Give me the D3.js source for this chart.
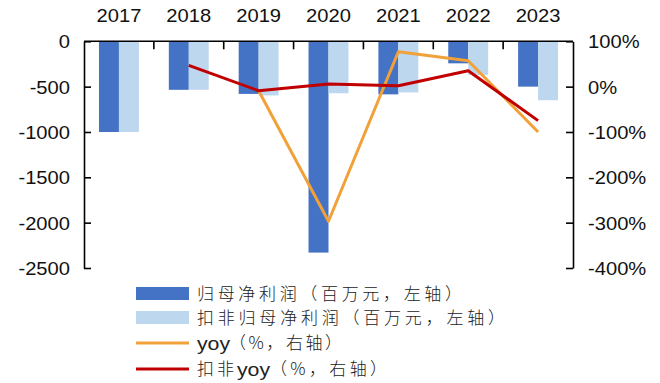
<!DOCTYPE html>
<html>
<head>
<meta charset="utf-8">
<script src="https://cdn.jsdelivr.net/npm/d3@7"></script>
<style>
  html, body { margin: 0; padding: 0; background: #fff; }
  svg { display: block; }
</style>
</head>
<body>
<svg id="chart" width="660" height="383"></svg>
<script>
// Annual figures
const years = ["2017", "2018", "2019", "2020", "2021", "2022", "2023"];
const netProfit = [-1000, -535, -580, -2330, -585, -243, -500];        // 百万元
const deductedProfit = [-1000, -535, -597, -573, -564, -370, -650];    // 百万元
const yoy = [null, null, -9, -297, 77, 57, -100];                       // %
const deductedYoy = [null, 47, -9, 6, 2, 35, -75];                      // %

const leftTicks = [0, -500, -1000, -1500, -2000, -2500];
const rightTicks = [100, 0, -100, -200, -300, -400];

// Legend labels, split into CJK and Latin runs: [text, set length, advance, latin?]
const legendItems = [
  { kind: "bar", color: "#4472C4", parts: [["归母净利润（百万元，左轴）", 265, 265, false]] },
  { kind: "bar", color: "#BDD7EE", parts: [["扣非归母净利润（百万元，左轴）", 308, 308, false]] },
  { kind: "line", color: "#F2A139", parts: [["yoy", 0, 32, true], ["（%，右轴）", 113, 113, false]] },
  { kind: "line", color: "#C00000", parts: [["扣非", 37, 40, false], ["yoy", 0, 33, true], ["（%，右轴）", 117, 117, false]] }
];

const svg = d3.select("#chart");
const plot = { left: 84, right: 573, top: 41.3, bottom: 268 };
const font = "'Liberation Sans', Arial, sans-serif";
const stretch = 1.12;

const x = d3.scaleBand().domain(years).range([plot.left, plot.right]).padding(0);
const sub = d3.scaleBand().domain(["net", "ded"]).range([0, x.bandwidth()])
  .paddingInner(0).paddingOuter(0.75);
const yL = d3.scaleLinear().domain([-2500, 0]).range([plot.bottom, plot.top]);
const yR = d3.scaleLinear().domain([-400, 100]).range([plot.bottom, plot.top]);

// Bars
const barSeries = [
  { key: "net", values: netProfit, color: legendItems[0].color },
  { key: "ded", values: deductedProfit, color: legendItems[1].color }
];
barSeries.forEach(s => {
  svg.append("g").selectAll("rect")
    .data(years)
    .join("rect")
    .attr("x", (d) => x(d) + sub(s.key))
    .attr("width", sub.bandwidth())
    .attr("y", (d, i) => yL(Math.max(0, s.values[i])))
    .attr("height", (d, i) => Math.abs(yL(s.values[i]) - yL(0)))
    .attr("fill", s.color);
});

// Lines on right axis
const lineSeries = [
  { values: yoy, color: legendItems[2].color },
  { values: deductedYoy, color: legendItems[3].color }
];
const lineGen = d3.line()
  .defined(d => d.v !== null)
  .x(d => x(d.year) + x.bandwidth() / 2)
  .y(d => yR(d.v));
lineSeries.forEach(s => {
  svg.append("path")
    .datum(years.map((year, i) => ({ year, v: s.values[i] })))
    .attr("d", lineGen)
    .attr("fill", "none")
    .attr("stroke", s.color)
    .attr("stroke-width", 3)
    .attr("stroke-linejoin", "round");
});

// Left axis (ticks point inward)
const gL = svg.append("g")
  .attr("transform", `translate(${plot.left},0)`)
  .call(d3.axisLeft(yL).tickValues(leftTicks).tickSizeInner(-7).tickSizeOuter(0)
    .tickFormat(d => String(d)));
gL.select(".domain").attr("stroke", "#000").attr("stroke-width", 1.6);
gL.selectAll(".tick line").attr("stroke", "#000").attr("stroke-width", 1.6);
gL.selectAll(".tick text")
  .attr("x", -14 / stretch)
  .attr("transform", `scale(${stretch},1)`)
  .attr("dy", "0.36em")
  .attr("text-anchor", "end")
  .style("font-family", font).style("font-size", "18px").attr("fill", "#111");

// Right axis (ticks point inward)
const gR = svg.append("g")
  .attr("transform", `translate(${plot.right},0)`)
  .call(d3.axisRight(yR).tickValues(rightTicks).tickSizeInner(-7).tickSizeOuter(0)
    .tickFormat(d => String(d) + "%"));
gR.select(".domain").attr("stroke", "#000").attr("stroke-width", 1.6);
gR.selectAll(".tick line").attr("stroke", "#000").attr("stroke-width", 1.6);
gR.selectAll(".tick text")
  .attr("x", 15 / stretch)
  .attr("transform", `scale(${stretch},1)`)
  .attr("dy", "0.36em")
  .attr("text-anchor", "start")
  .style("font-family", font).style("font-size", "18px").attr("fill", "#111");

// Category axis along the zero line, labels above the plot
svg.append("line")
  .attr("x1", plot.left).attr("x2", plot.right)
  .attr("y1", yL(0)).attr("y2", yL(0))
  .attr("stroke", "#000").attr("stroke-width", 1.6);
svg.append("g").selectAll("line")
  .data(years.slice(1))
  .join("line")
  .attr("x1", d => x(d)).attr("x2", d => x(d))
  .attr("y1", yL(0)).attr("y2", yL(0) + 8)
  .attr("stroke", "#000").attr("stroke-width", 1.6);
svg.append("g").selectAll("text")
  .data(years)
  .join("text")
  .attr("transform", d => `translate(${x(d) + x.bandwidth() / 2},22) scale(${stretch},1)`)
  .attr("text-anchor", "middle")
  .style("font-family", font).style("font-size", "18px").attr("fill", "#111")
  .text(d => d);

// Legend
const legendRows = [293.5, 317.5, 343, 369];
const lg = svg.append("g");
legendItems.forEach((item, i) => {
  const cy = legendRows[i];
  if (item.kind === "bar") {
    lg.append("rect").attr("x", 136).attr("y", cy - 6.5).attr("width", 53).attr("height", 13)
      .attr("fill", item.color);
  } else {
    lg.append("line").attr("x1", 136).attr("x2", 189).attr("y1", cy).attr("y2", cy)
      .attr("stroke", item.color).attr("stroke-width", 3);
  }
  let tx = 197;
  item.parts.forEach(([txt, len, adv, latin]) => {
    const t = lg.append("text")
      .attr("x", tx).attr("y", cy)
      .attr("dy", "0.36em")
      .attr("fill", "#222")
      .text(txt);
    if (latin) {
      t.attr("transform", `translate(${tx},0) scale(${stretch},1) translate(${-tx},0)`)
        .style("font-family", font).style("font-size", "19px");
    } else {
      t.attr("textLength", len).attr("lengthAdjust", "spacing")
        .style("font-family", "'Noto Sans CJK SC', sans-serif")
        .style("font-size", "17px").style("font-weight", 300);
    }
    tx += adv;
  });
});
</script>
</body>
</html>
